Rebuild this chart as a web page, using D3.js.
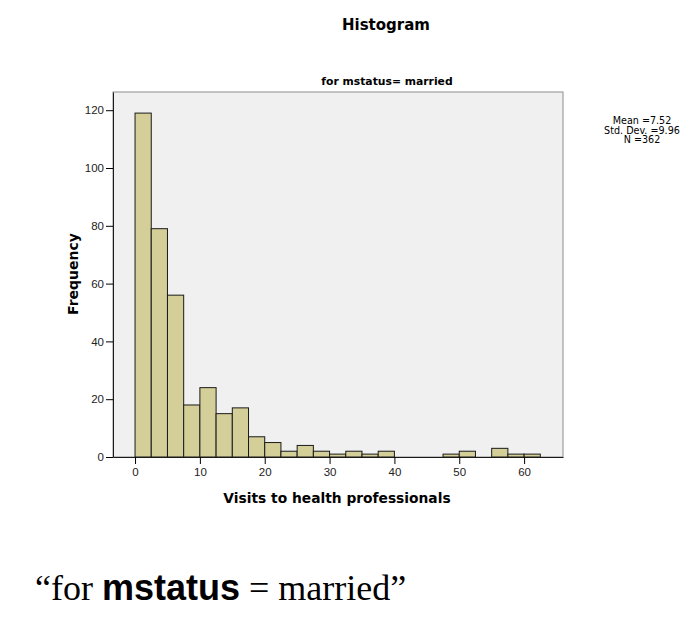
<!DOCTYPE html>
<html>
<head>
<meta charset="utf-8">
<script src="https://cdn.jsdelivr.net/npm/d3@7"></script>
<style>
  body { margin: 0; background: #fff; }
  svg { display: block; }
  .tick text { font-family: Arial, "Liberation Sans", sans-serif; font-size: 11.5px; fill: #222; }
</style>
</head>
<body>
<svg id="chart" width="691" height="620"></svg>
<script>
// histogram bins: width 2.5, starting at 0
const binStarts = [0, 2.5, 5, 7.5, 10, 12.5, 15, 17.5, 20, 22.5, 25, 27.5, 30, 32.5, 35, 37.5, 40, 42.5, 45, 47.5, 50, 52.5, 55, 57.5, 60];
const binCounts = [119, 79, 56, 18, 24, 15, 17, 7, 5, 2, 4, 2, 1, 2, 1, 2, 0, 0, 0, 1, 2, 0, 3, 1, 1];
const binWidth = 2.5;
const xTicks = [0, 10, 20, 30, 40, 50, 60];
const yTicks = [0, 20, 40, 60, 80, 100, 120];
const statLines = ['Mean =7.52', 'Std. Dev. =9.96', 'N =362'];

const svg = d3.select('#chart');
const sans = 'Arial, "Liberation Sans", sans-serif';
const dejavu = '"DejaVu Sans", Verdana, sans-serif';

const plot = { left: 113, top: 92, right: 563, bottom: 457 };

const x = d3.scaleLinear().domain([-3.4, 66]).range([plot.left, plot.right]);
const y = d3.scaleLinear().domain([0, 126.3]).range([plot.bottom, plot.top]);

svg.append('text')
  .attr('x', 386).attr('y', 30)
  .attr('text-anchor', 'middle')
  .attr('font-family', dejavu).attr('font-weight', 'bold').attr('font-size', 15)
  .text('Histogram');

svg.append('text')
  .attr('x', 387).attr('y', 85)
  .attr('text-anchor', 'middle')
  .attr('font-family', dejavu).attr('font-weight', 'bold').attr('font-size', 10.8)
  .text('for mstatus= married');

// plot background
svg.append('rect')
  .attr('x', plot.left).attr('y', plot.top)
  .attr('width', plot.right - plot.left).attr('height', plot.bottom - plot.top)
  .attr('fill', '#f0f0f0')
  .attr('stroke', '#8c8c8c')
  .attr('stroke-width', 1);

const bins = binStarts.map((s, i) => ({ x0: s, x1: s + binWidth, n: binCounts[i] })).filter((d) => d.n > 0);

svg.append('g')
  .selectAll('rect')
  .data(bins)
  .join('rect')
  .attr('x', (d) => x(d.x0))
  .attr('y', (d) => y(d.n))
  .attr('width', (d) => x(d.x1) - x(d.x0))
  .attr('height', (d) => y(0) - y(d.n))
  .attr('fill', '#d4cf98')
  .attr('stroke', '#1a1a1a')
  .attr('stroke-width', 1);

const xAxis = svg.append('g')
  .attr('transform', `translate(0,${plot.bottom})`)
  .call(d3.axisBottom(x).tickValues(xTicks).tickSize(7).tickPadding(4).tickSizeOuter(0));
xAxis.select('.domain').attr('stroke', '#1a1a1a');

const yAxis = svg.append('g')
  .attr('transform', `translate(${plot.left},0)`)
  .call(d3.axisLeft(y).tickValues(yTicks).tickSize(7).tickPadding(2).tickSizeOuter(0));
yAxis.select('.domain').attr('stroke', '#1a1a1a');

svg.append('text')
  .attr('x', 337).attr('y', 503)
  .attr('text-anchor', 'middle')
  .attr('font-family', dejavu).attr('font-weight', 'bold').attr('font-size', 13.8)
  .text('Visits to health professionals');

svg.append('text')
  .attr('transform', 'translate(78,274) rotate(-90)')
  .attr('text-anchor', 'middle')
  .attr('font-family', dejavu).attr('font-weight', 'bold').attr('font-size', 14)
  .text('Frequency');

// summary stats, tight line spacing like the SPSS output
svg.append('g')
  .selectAll('text')
  .data(statLines)
  .join('text')
  .attr('x', 642)
  .attr('y', (d, i) => 124 + i * 9.6)
  .attr('text-anchor', 'middle')
  .attr('font-family', dejavu).attr('font-size', 9.6)
  .text((d) => d);

const caption = svg.append('text')
  .attr('x', 35).attr('y', 600)
  .attr('font-family', '"Liberation Serif", "Times New Roman", serif')
  .attr('font-size', 36);
caption.append('tspan').text('\u201cfor ');
caption.append('tspan').attr('font-family', sans).attr('font-weight', 'bold').text('mstatus');
caption.append('tspan').text(' = married\u201d');
</script>
</body>
</html>
